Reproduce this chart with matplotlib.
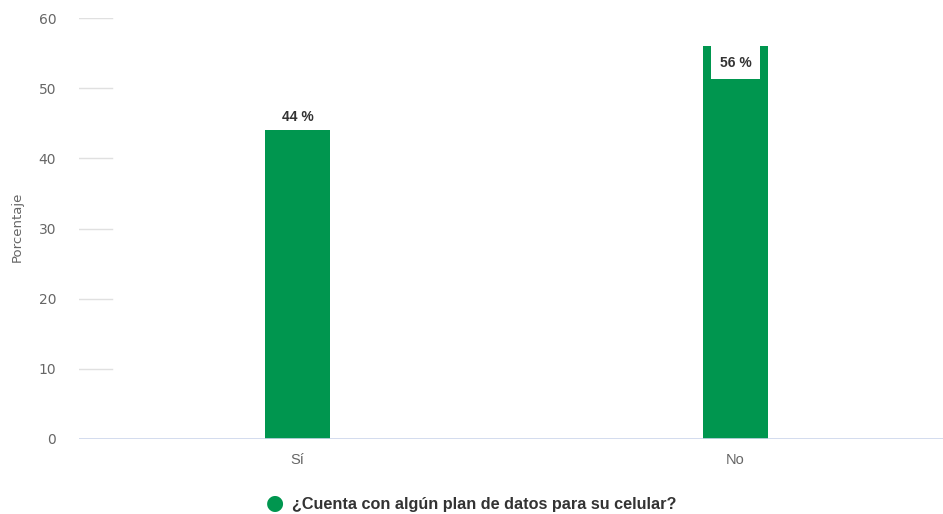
import matplotlib
matplotlib.use("Agg")
from matplotlib import pyplot as plt
from matplotlib.patches import Rectangle

categories = ["Sí", "No"]
values = [44, 56]
labels = ["44 %", "56 %"]
yticks = [0, 10, 20, 30, 40, 50, 60]
series_name = "¿Cuenta con algún plan de datos para su celular?"

green = "#00964f"
sans = ["Liberation Sans", "DejaVu Sans"]

fig = plt.figure(figsize=(9.43, 5.14), dpi=100)
ax = fig.add_axes([78.5 / 943, 75 / 514, 876 / 943, 421 / 514])

x = range(len(categories))
bars = ax.bar(x, values, width=0.148, color=green, zorder=2)

ax.set_xlim(-0.5, 1.5)
ax.set_ylim(0, 60)

# short grid stubs on the left only
for t in yticks[1:]:
    ax.axhline(t, xmin=0, xmax=0.038, color="#e0e0e0", lw=1, zorder=1)
ax.axhline(0, color="#ccd6eb", lw=1.2, zorder=3)

for s in ax.spines.values():
    s.set_visible(False)

ax.set_yticks(yticks)
ax.set_yticklabels([str(t) for t in yticks], color="#666666", fontsize=10)
ax.tick_params(axis="y", length=0, pad=16)
ax.set_xticks(list(x))
ax.set_xticklabels(categories, color="#666666", fontsize=10.5, family=sans)
ax.tick_params(axis="x", length=0, pad=10)

ax.set_ylabel("Porcentaje", color="#666666", fontsize=9.5)
ax.yaxis.set_label_coords(-0.063, 0.505)

# data labels
ax.text(0, values[0] + 1.9, labels[0], ha="center", va="center",
        fontsize=10, fontweight="bold", color="#333333", family=sans)
ax.add_patch(Rectangle((1 - 0.057, values[1] - 0.47 * 10), 0.114, 0.47 * 10,
                       facecolor="white", edgecolor="none", zorder=3))
ax.text(1, values[1] - 2.45, labels[1], ha="center", va="center",
        fontsize=10, fontweight="bold", color="#333333", family=sans, zorder=4)

# legend
fig.text(275 / 943, 1 - 503 / 514, "\u25CF", color=green, fontsize=15,
         ha="center", va="center")
fig.text(292 / 943, 1 - 504 / 514, series_name, color="#333333",
         fontsize=11.7, fontweight="bold", family=sans, ha="left", va="center")

fig.savefig("out.png", dpi=100)
